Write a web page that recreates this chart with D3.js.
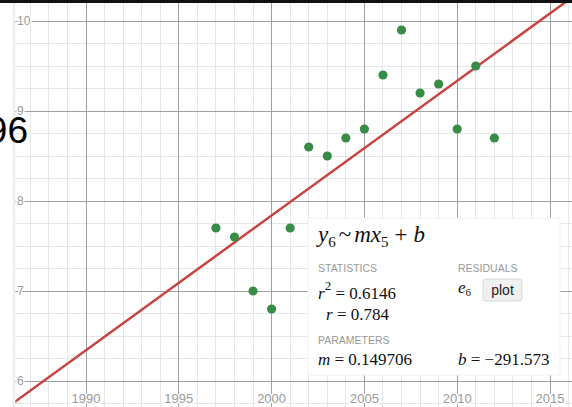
<!DOCTYPE html>
<html><head><meta charset="utf-8">
<script src="https://cdn.jsdelivr.net/npm/d3@7"></script>
<style>
html,body{margin:0;padding:0;background:#fff;overflow:hidden}
svg{display:block}
</style></head>
<body>
<svg id="c" width="572" height="407"></svg>
<script>
// ---- data ----
const years = [1997,1998,1999,2000,2001,2002,2003,2004,2005,2006,2007,2008,2009,2010,2011,2012];
const values = [7.7,7.6,7.0,6.8,7.7,8.6,8.5,8.7,8.8,9.4,9.9,9.2,9.3,8.8,9.5,8.7];
const xTickLabels = ["1990","1995","2000","2005","2010","2015"];
const yTickLabels = ["6","7","8","9","10"];
const statLabels = ["STATISTICS","RESIDUALS","PARAMETERS"];
const statValues = {r2:"0.6146", r:"0.784", m:"0.149706", b:"\u2212291.573"};

(function(){
const W = 572, H = 407;
const svg = d3.select("#c");
const x = d3.scaleLinear().domain([1990, 2015]).range([86, 550]);
const y = d3.scaleLinear().domain([6, 10]).range([381, 21]);
const padL = 15, padT = 3;

const defs = svg.append("defs");
defs.append("clipPath").attr("id","clip")
  .append("rect").attr("x",padL).attr("y",padT).attr("width",W-padL).attr("height",H-padT);
const g = svg.append("g").attr("clip-path","url(#clip)");

// minor grid
const xMinor = d3.range(1985, 2018, 1);
const yMinor = d3.range(5.5, 10.6, 0.25);
g.selectAll("line.xm").data(xMinor.filter(d=>d%5!==0)).join("line")
  .attr("x1",d=>x(d)).attr("x2",d=>x(d)).attr("y1",0).attr("y2",H)
  .attr("stroke","#e6e6e6").attr("stroke-width",1).attr("shape-rendering","crispEdges");
g.selectAll("line.ym").data(yMinor.filter(d=>Math.abs(d-Math.round(d))>1e-6)).join("line")
  .attr("y1",d=>y(d)).attr("y2",d=>y(d)).attr("x1",0).attr("x2",W)
  .attr("stroke","#e6e6e6").attr("stroke-width",1).attr("shape-rendering","crispEdges");
// major grid
const xMajor = xTickLabels.map(Number);
const yMajor = yTickLabels.map(Number);
g.selectAll("line.xM").data(xMajor).join("line")
  .attr("x1",d=>x(d)).attr("x2",d=>x(d)).attr("y1",0).attr("y2",H)
  .attr("stroke","#a0a0a0").attr("stroke-width",1).attr("shape-rendering","crispEdges");
g.selectAll("line.yM").data(yMajor).join("line")
  .attr("y1",d=>y(d)).attr("y2",d=>y(d)).attr("x1",0).attr("x2",W)
  .attr("stroke","#a0a0a0").attr("stroke-width",1).attr("shape-rendering","crispEdges");

// tick labels with white halo
const lab = g.append("g").attr("font-family","Arial, 'Liberation Sans', sans-serif").attr("fill","#9a9a9a");
lab.selectAll("text.x").data(xTickLabels).join("text")
  .attr("x",d=>x(+d)).attr("y",403).attr("text-anchor","middle").attr("font-size",13)
  .attr("stroke","#fff").attr("stroke-width",3).attr("paint-order","stroke").text(d=>d);
lab.selectAll("text.y").data(yTickLabels).join("text")
  .attr("x",17).attr("y",d=>y(+d)+4).attr("text-anchor","start").attr("font-size",12)
  .attr("stroke","#fff").attr("stroke-width",3).attr("paint-order","stroke").text(d=>d);

// regression line (least squares from data)
const mx = d3.mean(years), my = d3.mean(values);
const slope = d3.sum(years,(d,i)=>(d-mx)*(values[i]-my)) / d3.sum(years,d=>(d-mx)*(d-mx));
const icpt = my - slope*mx;
const xs = [1980, 2020];
g.append("path").datum(xs)
  .attr("d", d3.line().x(d=>x(d)).y(d=>y(slope*d+icpt)))
  .attr("fill","none").attr("stroke","#c74440").attr("stroke-width",2.5);

// points
g.selectAll("circle.p").data(years).join("circle")
  .attr("cx",d=>x(d)).attr("cy",(d,i)=>y(values[i])).attr("r",4.6).attr("fill","#388c46");

// left panel shadow
const grad = defs.append("linearGradient").attr("id","sh").attr("x1","0").attr("x2","1");
grad.append("stop").attr("offset","0").attr("stop-color","#e4e4e4");
grad.append("stop").attr("offset","1").attr("stop-color","#f6f6f6").attr("stop-opacity",0);
svg.append("rect").attr("x",0).attr("y",0).attr("width",padL-1).attr("height",H).attr("fill","#fff");
svg.append("rect").attr("x",padL-2).attr("y",0).attr("width",4).attr("height",H).attr("fill","url(#sh)");

// stats box
const box = svg.append("g");
box.append("rect").attr("x",308).attr("y",218).attr("width",252).attr("height",157)
  .attr("fill","#fff").attr("stroke","#f2f2f2").attr("stroke-width",1);
const serif = "'Times New Roman','Liberation Serif','DejaVu Serif',serif";
const sans = "Arial,'Liberation Sans',sans-serif";

// equation
const eq = box.append("text").attr("x",318).attr("y",242).attr("font-family",serif).attr("font-size",23).attr("fill","#111");
eq.append("tspan").attr("font-style","italic").text("y");
eq.append("tspan").attr("font-size",15).attr("dy",5).text("6");
eq.append("tspan").attr("dy",-5).attr("dx",3).text("~");
eq.append("tspan").attr("font-style","italic").attr("dx",3).text("mx");
eq.append("tspan").attr("font-size",15).attr("dy",5).text("5");
eq.append("tspan").attr("dy",-5).attr("dx",6).text("+");
eq.append("tspan").attr("font-style","italic").attr("dx",6).text("b");

// headers
box.selectAll("text.h").data(statLabels).join("text")
  .attr("x",(d,i)=>i===1?458:318).attr("y",(d,i)=>i===2?344:272)
  .attr("font-family",sans).attr("font-size",10.5).attr("fill","#999").text(d=>d);

// r^2
const r2 = box.append("text").attr("x",318).attr("y",299).attr("font-family",serif).attr("font-size",17).attr("fill","#111");
r2.append("tspan").attr("font-style","italic").text("r");
r2.append("tspan").attr("font-size",13).attr("dy",-9).text("2");
r2.append("tspan").attr("dy",9).text(" = " + statValues.r2);
const rr = box.append("text").attr("x",326).attr("y",320).attr("font-family",serif).attr("font-size",17).attr("fill","#111");
rr.append("tspan").attr("font-style","italic").text("r");
rr.append("tspan").text(" = " + statValues.r);

// residuals
const e6 = box.append("text").attr("x",458).attr("y",293).attr("font-family",serif).attr("font-size",17).attr("fill","#111");
e6.append("tspan").attr("font-style","italic").text("e");
e6.append("tspan").attr("font-size",11).attr("dy",3).text("6");
box.append("rect").attr("x",483).attr("y",279).attr("width",39).attr("height",22).attr("rx",3)
  .attr("fill","#f0f0f0").attr("stroke","#d8d8d8");
box.append("text").attr("x",502.5).attr("y",295).attr("text-anchor","middle").attr("font-family",sans)
  .attr("font-size",14).attr("fill","#222").text("plot");

// params
const mt = box.append("text").attr("x",318).attr("y",365).attr("font-family",serif).attr("font-size",17).attr("fill","#111");
mt.append("tspan").attr("font-style","italic").text("m");
mt.append("tspan").text(" = " + statValues.m);
const bt = box.append("text").attr("x",458).attr("y",365).attr("font-family",serif).attr("font-size",17).attr("fill","#111");
bt.append("tspan").attr("font-style","italic").text("b");
bt.append("tspan").text(" = " + statValues.b);

// large label partly off the left edge (as in the reference)
svg.append("text").attr("x",28).attr("y",143).attr("text-anchor","end").attr("font-family",sans)
  .attr("font-size",37).attr("fill","#000").text("96");

// top border
svg.append("rect").attr("x",0).attr("y",0).attr("width",W).attr("height",3).attr("fill","#111");
})();
</script>
</body></html>
